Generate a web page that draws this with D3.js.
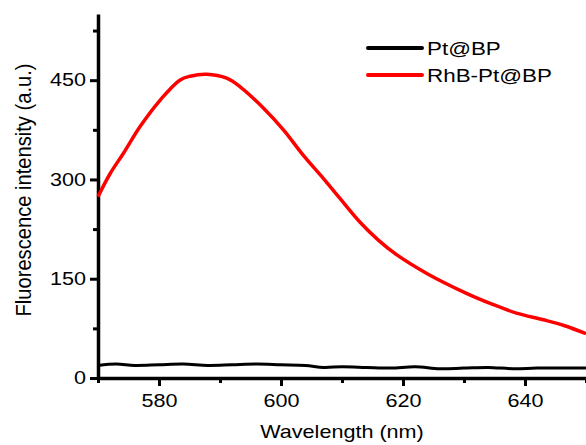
<!DOCTYPE html>
<html>
<head>
<meta charset="utf-8">
<script src="https://cdn.jsdelivr.net/npm/d3@7"></script>
<style>
    body { margin: 0; background: #fff; }
    text { font-family: Arial, "Liberation Sans", sans-serif; fill: #000; }
</style>
</head>
<body>
<svg id="chart" width="586" height="445"></svg>
<script>
// wavelength (nm) and intensity
const rhbWave = [570, 572, 574.2, 576.9, 580.2, 583.4, 585.1, 587.8, 591.1, 593.3, 597.1, 600.4, 603.7, 607, 609.7, 613, 616, 619, 623.9, 630.4, 634.5, 638.6, 643, 646.5, 650]
const rhbValue = [274, 309, 340, 380, 420, 450, 456, 459, 453, 440, 408, 375, 336, 301, 271, 235, 208, 186, 158, 128, 112, 98, 88, 79, 67]

const ptWave = [570, 573, 576, 580, 584, 588, 592, 596, 600, 604, 607, 610, 614, 618, 622, 626, 630, 634, 638, 642, 646, 650]
const ptValue = [19, 21, 19, 20, 21, 19, 20, 21, 20, 19, 16, 17, 16, 15, 17, 14, 15, 16, 14, 15, 15, 15]

const seriesNames = ["Pt@BP", "RhB-Pt@BP"]
const seriesColors = ["#000000", "#ff0000"]

const xTicks = [580, 600, 620, 640]
const xMinor = [570, 590, 610, 630, 650]
const yTicks = [0, 150, 300, 450]
const yMinor = [75, 225, 375, 525]

const svg = d3.select("#chart")

const xScale = d3.scaleLinear()
    .domain([570, 650])
    .range([98, 586])

const yScale = d3.scaleLinear()
    .domain([0, 550])
    .range([378, 14])

// minor ticks first so the axis line sits on top
svg.append("g")
    .attr("transform", "translate(0,378)")
    .call(d3.axisBottom(xScale).tickValues(xMinor).tickSize(5).tickFormat(""))
    .call(g => g.select(".domain").remove())
    .selectAll("line").attr("stroke-width", 3)

svg.append("g")
    .attr("transform", "translate(98,0)")
    .call(d3.axisLeft(yScale).tickValues(yMinor).tickSize(5).tickFormat(""))
    .call(g => g.select(".domain").remove())
    .selectAll("line").attr("stroke-width", 3)

const xAxis = svg.append("g")
    .attr("transform", "translate(0,378)")
    .call(d3.axisBottom(xScale).tickValues(xTicks).tickSizeInner(8).tickSizeOuter(0).tickPadding(8))
xAxis.select(".domain").attr("stroke-width", 3.5)
xAxis.selectAll("line").attr("stroke-width", 3)
xAxis.selectAll("text")
    .style("font-size", "18px")
    .attr("transform", "scale(1.2,1)")

const yAxis = svg.append("g")
    .attr("transform", "translate(98,0)")
    .call(d3.axisLeft(yScale).tickValues(yTicks).tickSizeInner(8).tickSizeOuter(0).tickPadding(2))
yAxis.select(".domain").attr("stroke-width", 3.5)
yAxis.selectAll("line").attr("stroke-width", 3)
yAxis.selectAll("text")
    .style("font-size", "18px")
    .attr("transform", "scale(1.2,1)")

const myLine = d3.line()
    .x(d => xScale(d[0]))
    .y(d => yScale(d[1]))
    .curve(d3.curveCatmullRom)

const series = [
    d3.zip(ptWave, ptValue),
    d3.zip(rhbWave, rhbValue)
]

svg.selectAll(".line")
    .data(series)
    .join("path")
    .attr("class", "line")
    .attr("d", myLine)
    .attr("stroke", (d, i) => seriesColors[i])
    .attr("stroke-width", (d, i) => i == 0 ? 3 : 3.5)
    .attr("fill", "none")

// legend
const legend = svg.selectAll(".legend")
    .data(seriesNames)
    .join("g")
    .attr("class", "legend")
    .attr("transform", (d, i) => `translate(368,${48 + i * 27})`)

legend.append("line")
    .attr("x1", 0).attr("x2", 54)
    .attr("stroke", (d, i) => seriesColors[i])
    .attr("stroke-width", 4)
    .attr("stroke-linecap", "round")

legend.append("text")
    .attr("transform", "translate(59,0) scale(1.18,1)")
    .attr("dy", "0.35em")
    .style("font-size", "19px")
    .text(d => d)

// axis titles
svg.append("text")
    .attr("transform", "translate(342,438) scale(1.2,1)")
    .attr("text-anchor", "middle")
    .style("font-size", "18px")
    .text("Wavelength (nm)")

svg.append("text")
    .attr("transform", "translate(31,190) rotate(-90) scale(1.12,1.2)")
    .attr("text-anchor", "middle")
    .style("font-size", "18px")
    .text("Fluorescence intensity (a.u.)")
</script>
</body>
</html>
